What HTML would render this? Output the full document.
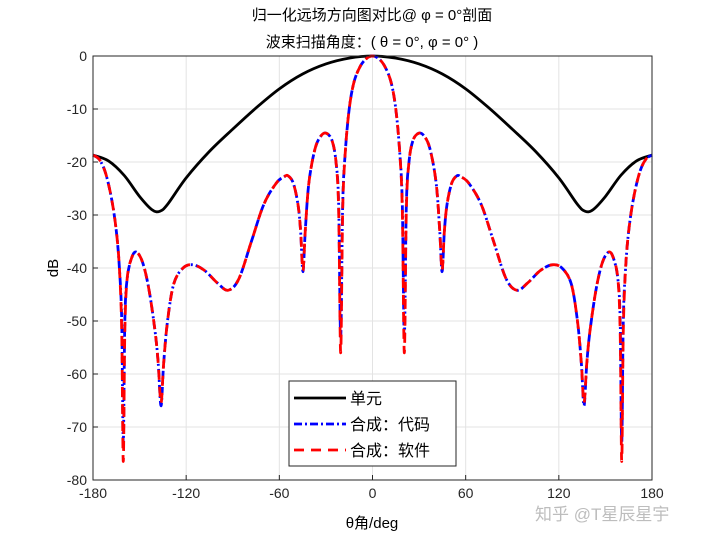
<!DOCTYPE html>
<html><head><meta charset="utf-8"><style>
body{margin:0;background:#fff;}
svg text{font-family:"Liberation Sans","Noto Sans CJK SC",sans-serif;}
</style></head><body>
<svg id="chart" width="720" height="540" viewBox="0 0 720 540">
<rect width="720" height="540" fill="#fff"/>
<g id="grid"></g>
<g id="series"></g>
<rect x="93" y="56" width="559" height="424" fill="none" stroke="#262626" stroke-width="1"/>
<g id="ticks"></g>
<text x="372" y="20" text-anchor="middle" font-size="15" fill="#000">归一化远场方向图对比@ φ = 0°剖面</text>
<text x="372" y="47" text-anchor="middle" font-size="15" fill="#000">波束扫描角度：( θ = 0°, φ = 0° )</text>
<text x="58" y="268" text-anchor="middle" font-size="15" transform="rotate(-90 58 268)">dB</text>
<text x="372" y="528" text-anchor="middle" font-size="15">θ角/deg</text>
<g>
<rect x="289" y="381" width="167" height="85" fill="#fff" stroke="#262626" stroke-width="1"/>
<g>
<line x1="294" y1="398" x2="346" y2="398" stroke="#000" stroke-width="2.8"/>
<text x="350" y="404" font-size="16">单元</text></g>
<g>
<line x1="294" y1="424" x2="346" y2="424" stroke="#0000ff" stroke-width="2.8" stroke-dasharray="8,3,2,3"/>
<text x="350" y="430" font-size="16">合成：代码</text></g>
<g>
<line x1="294" y1="450" x2="346" y2="450" stroke="#ff0000" stroke-width="2.8" stroke-dasharray="10,7"/>
<text x="350" y="456" font-size="16">合成：软件</text></g>
</g>
<text x="535" y="520" font-size="17" fill="#bdbdbd">知乎 @T星辰星宇</text>
</svg>
<script>
const xTicks=[-180,-120,-60,0,60,120,180];
const yTicks=[0,-10,-20,-30,-40,-50,-60,-70,-80];
const elemTheta=[-180,-170,-160,-150,-142,-137,-132,-120,-105,-90,-75,-60,-45,-30,-15,0,15,30,45,60,75,90,105,120,132,137,142,150,160,170,180];
const elemDb=[-18.7,-19.8,-22.5,-26.5,-29,-29.3,-28,-23,-18,-13.8,-9.8,-6.2,-3.4,-1.5,-0.4,0,-0.4,-1.5,-3.4,-6.2,-9.8,-13.8,-18,-23,-28,-29.3,-29,-26.5,-22.5,-19.8,-18.7];
const arrTheta=[-180,-176,-172,-168,-165,-163,-161.5,-160.5,-159.5,-158,-155,-152,-148,-144,-140,-138,-136.2,-134.5,-132,-128,-122,-115.6,-108,-100,-93,-86,-78,-70,-62,-57,-54.4,-51,-48,-46.3,-44.8,-43.3,-41,-37,-33,-29.5,-26,-23.5,-21.8,-20.5,-19.2,-17.5,-15,-12,-8,-4,0,
4,8,12,15,17.5,19.2,20.5,21.8,23.5,26,29.5,33,37,41,43.3,44.8,46.3,48,51,54.4,57,62,70,78,86,93,100,108,115.6,122,128,132,134.5,136.2,138,140,144,148,152,155,158,159.5,160.5,161.5,163,165,168,172,176,180];
const codeDb=[-18.7,-19.5,-22,-27,-33,-40,-50,-73,-50,-42,-38,-37,-39,-44,-52,-58,-66,-58,-50,-43,-40,-39.4,-40.5,-42.8,-44.2,-42,-35,-28,-24,-22.8,-22.6,-24,-28,-33,-40.7,-33,-24,-17.5,-15,-14.6,-16,-20,-28,-53,-28,-18,-10,-5,-2,-0.5,0,
-0.5,-2,-5,-10,-18,-28,-53,-28,-20,-16,-14.6,-15,-17.5,-24,-33,-40.7,-33,-28,-24,-22.6,-22.8,-24,-28,-35,-42,-44.2,-42.8,-40.5,-39.4,-40,-43,-50,-58,-66,-58,-52,-44,-39,-37,-38,-42,-50,-73,-50,-40,-33,-27,-22,-19.5,-18.7];
const softDb=[-18.7,-19.5,-22,-27,-33,-40,-52,-76.5,-52,-42,-38,-37,-39,-44,-52,-58,-65.5,-58,-50,-43,-40,-39.4,-40.5,-42.8,-44.2,-42,-35,-28,-24,-22.8,-22.6,-24,-28,-33,-40.5,-33,-24,-17.5,-15,-14.6,-16,-20,-29,-56,-29,-18,-10,-5,-2,-0.5,0,
-0.5,-2,-5,-10,-18,-29,-56,-29,-20,-16,-14.6,-15,-17.5,-24,-33,-40.5,-33,-28,-24,-22.6,-22.8,-24,-28,-35,-42,-44.2,-42.8,-40.5,-39.4,-40,-43,-50,-58,-65.5,-58,-52,-44,-39,-37,-38,-42,-52,-76.5,-52,-40,-33,-27,-22,-19.5,-18.7];
const NS='http://www.w3.org/2000/svg';
const X0=93,X1=652,Y0=56,Y1=480;
function sx(t){return X0+(t+180)/360*(X1-X0);}
function sy(d){return Y0+(0-d)/80*(Y1-Y0);}
function mk(tag,attrs,parent){const e=document.createElementNS(NS,tag);for(const k in attrs)e.setAttribute(k,attrs[k]);parent.appendChild(e);return e;}
const grid=document.getElementById('grid'),ticks=document.getElementById('ticks'),ser=document.getElementById('series');
xTicks.forEach(t=>{
 const l=mk('line',{x1:sx(t),x2:sx(t),y1:Y0,y2:Y1,stroke:'#e3e3e3','stroke-width':1},grid);
 
 
 const tk=mk('line',{x1:sx(t),x2:sx(t),y1:Y1,y2:Y1-5,stroke:'#262626'},ticks);
 
 
 const tx=mk('text',{x:sx(t),y:Y1+18,'text-anchor':'middle','font-size':14,fill:'#262626'},ticks);
 tx.textContent=t;
 
 
});
yTicks.forEach(v=>{
 const l=mk('line',{x1:X0,x2:X1,y1:sy(v),y2:sy(v),stroke:'#e3e3e3','stroke-width':1},grid);
 
 
 const tk=mk('line',{x1:X0,x2:X0+5,y1:sy(v),y2:sy(v),stroke:'#262626'},ticks);
 
 
 const tx=mk('text',{x:X0-6,y:sy(v)+5,'text-anchor':'end','font-size':14,fill:'#262626'},ticks);
 tx.textContent=v;
 
 
});
function pathFor(th,db){
 const p=th.map((t,i)=>[sx(t),sy(db[i])]);
 let d='M'+p[0][0].toFixed(2)+','+p[0][1].toFixed(2);
 for(let i=0;i<p.length-1;i++){
  const a=p[Math.max(i-1,0)],b=p[i],c=p[i+1],e=p[Math.min(i+2,p.length-1)];
  const c1=[b[0]+(c[0]-a[0])/6,b[1]+(c[1]-a[1])/6],c2=[c[0]-(e[0]-b[0])/6,c[1]-(e[1]-b[1])/6];
  d+='C'+c1.map(v=>v.toFixed(2))+' '+c2.map(v=>v.toFixed(2))+' '+c[0].toFixed(2)+','+c[1].toFixed(2);
 }
 return d;
}
const pe=mk('path',{d:pathFor(elemTheta,elemDb),fill:'none',stroke:'#000','stroke-width':2.8},ser);


const pc=mk('path',{d:pathFor(arrTheta,codeDb),fill:'none',stroke:'#0000ff','stroke-width':2.8,'stroke-dasharray':'8,3,2,3'},ser);


const ps=mk('path',{d:pathFor(arrTheta,softDb),fill:'none',stroke:'#ff0000','stroke-width':2.8,'stroke-dasharray':'10,7'},ser);


</script>
</body></html>
